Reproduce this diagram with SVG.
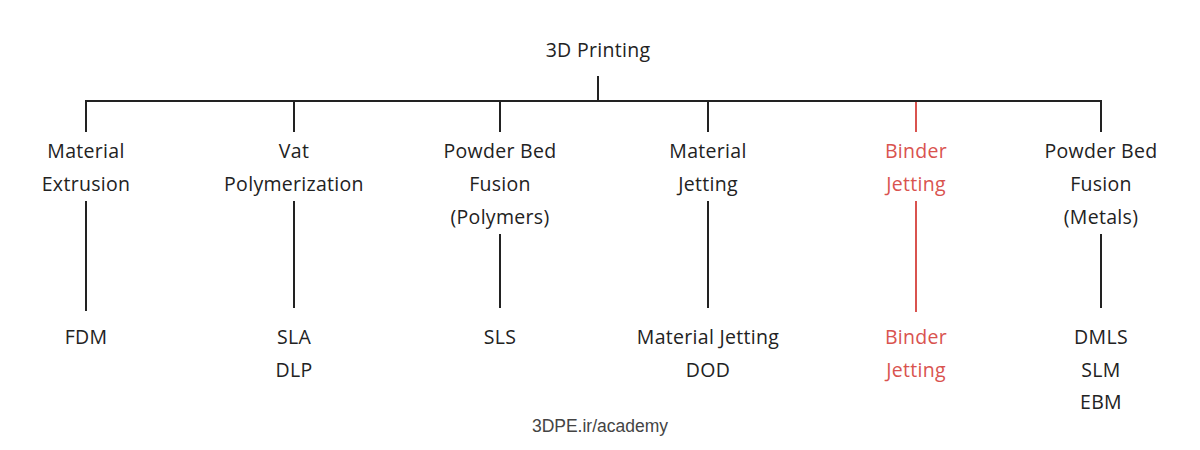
<svg xmlns="http://www.w3.org/2000/svg" width="1200" height="450" viewBox="0 0 1200 450">
<style>
text{font-family:"Open Sans","Liberation Sans",sans-serif;font-size:19.5px;letter-spacing:0.3px;fill:#222;text-anchor:middle}
.red text{fill:#d9534f}
.foot{font-size:17.5px;letter-spacing:0;fill:#444;font-family:"Liberation Sans",Arial,sans-serif}
line{stroke:#222;stroke-width:2}
line.r{stroke:#d9534f}
</style>
<rect width="1200" height="450" fill="#fff"/>
<g id="connectors">
<line x1="598" y1="76" x2="598" y2="102"/>
<line x1="85" y1="101" x2="1102" y2="101"/>
<line x1="86" y1="101" x2="86" y2="132"/>
<line x1="294" y1="101" x2="294" y2="132"/>
<line x1="500" y1="101" x2="500" y2="132"/>
<line x1="708" y1="101" x2="708" y2="132"/>
<line class="r" x1="916" y1="102" x2="916" y2="132"/>
<line x1="1101" y1="101" x2="1101" y2="132"/>
<line x1="86" y1="201" x2="86" y2="311"/>
<line x1="294" y1="201" x2="294" y2="308"/>
<line x1="500" y1="234" x2="500" y2="308"/>
<line x1="708" y1="201" x2="708" y2="308"/>
<line class="r" x1="916" y1="201" x2="916" y2="312"/>
<line x1="1101" y1="234" x2="1101" y2="308"/>
</g>
<g id="root"><text x="598" y="57">3D Printing</text></g>
<g id="material-extrusion"><text x="86" y="158">Material</text><text x="86" y="191">Extrusion</text></g>
<g id="vat-polymerization"><text x="294" y="158">Vat</text><text x="294" y="191">Polymerization</text></g>
<g id="pbf-polymers"><text x="500" y="158">Powder Bed</text><text x="500" y="191">Fusion</text><text x="500" y="224">(Polymers)</text></g>
<g id="material-jetting"><text x="708" y="158">Material</text><text x="708" y="191">Jetting</text></g>
<g id="binder-jetting" class="red"><text x="916" y="158">Binder</text><text x="916" y="191">Jetting</text></g>
<g id="pbf-metals"><text x="1101" y="158">Powder Bed</text><text x="1101" y="191">Fusion</text><text x="1101" y="224">(Metals)</text></g>
<g id="fdm"><text x="86" y="344">FDM</text></g>
<g id="sla-dlp"><text x="294" y="344">SLA</text><text x="294" y="377">DLP</text></g>
<g id="sls"><text x="500" y="344">SLS</text></g>
<g id="mj-dod"><text x="708" y="344">Material Jetting</text><text x="708" y="377">DOD</text></g>
<g id="bj-leaf" class="red"><text x="916" y="344">Binder</text><text x="916" y="377">Jetting</text></g>
<g id="metals-leaf"><text x="1101" y="344">DMLS</text><text x="1101" y="377">SLM</text><text x="1101" y="409">EBM</text></g>
<g id="footer"><text class="foot" x="600" y="432">3DPE.ir/academy</text></g>
</svg>
